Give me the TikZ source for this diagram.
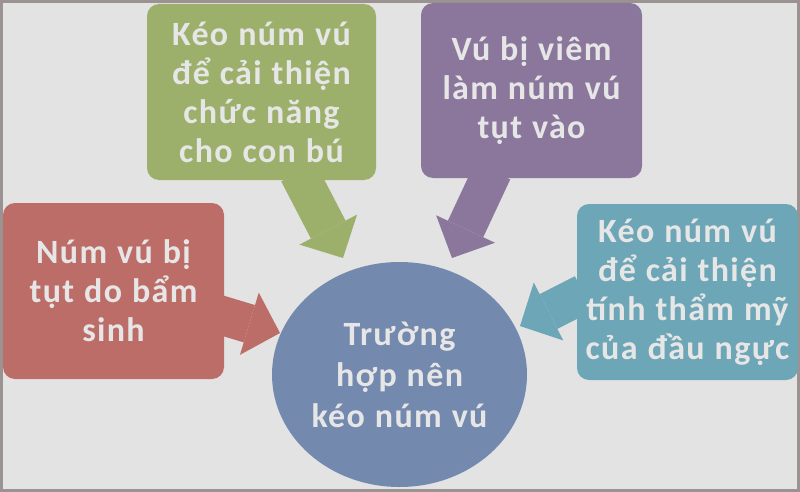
\documentclass[tikz,border=0pt]{standalone}
\usepackage{fontspec}
\setmainfont{Carlito}
\newfontfamily\boxfont[LetterSpace=4,WordSpace=1.1]{Carlito}
\usetikzlibrary{arrows.meta,shapes.geometric}
\definecolor{frameCol}{HTML}{9B9391}
\definecolor{bgCol}{HTML}{E3E3E3}
\definecolor{redCol}{HTML}{BD6D68}
\definecolor{greenCol}{HTML}{9CB06B}
\definecolor{purpleCol}{HTML}{8C779C}
\definecolor{tealCol}{HTML}{6DA6B6}
\definecolor{blueCol}{HTML}{7489AE}
\definecolor{textCol}{HTML}{E6E6E6}
\newcommand*{\boxW}{221}
\newcommand*{\boxH}{176}

\begin{document}
\begin{tikzpicture}[x=1pt,y=-1pt,
	box/.style={rectangle,rounded corners=12pt,minimum width=\boxW pt,minimum height=\boxH pt,inner sep=0pt,text=textCol,align=center,font=\boxfont\fontsize{34}{39}\selectfont\bfseries},
	blockarrow/.style={line width=39pt,-{Triangle[length=32pt,width=65pt,line width=0pt]}}]
	\fill[frameCol] (0,0) rectangle (800,492);
	\fill[bgCol] (3,3) rectangle (797,489);
	
	% ends of the arrows
	\coordinate (gs) at (298.5,172.4);
	\coordinate (gt) at (343,258);
	\coordinate (ps) at (492.6,171.1);
	\coordinate (pt) at (452,258);
	\coordinate (rs) at (215.5,313.5);
	\coordinate (rt) at (280,333);
	\coordinate (ts) at (583.7,293.6);
	\coordinate (tt) at (520,326);
	
	\draw[blockarrow,greenCol] (gs)--(gt);
	\draw[blockarrow,purpleCol] (ps)--(pt);
	\draw[blockarrow,redCol] (rs)--(rt);
	\draw[blockarrow,tealCol] (ts)--(tt);
	
	\node[box,fill=redCol] (congenital) at (113.5,291) {Núm vú bị\\tụt do bẩm\\sinh};
	\node[box,fill=greenCol,minimum width=229pt] (feeding) at (261.5,92) {Kéo núm vú\\để cải thiện\\chức năng\\cho con bú};
	\node[box,fill=purpleCol,minimum height=175pt] (inflamed) at (531.5,90.5) {Vú bị viêm\\làm núm vú\\tụt vào};
	\node[box,fill=tealCol] (aesthetic) at (687.5,292) {Kéo núm vú\\để cải thiện\\tính thẩm mỹ\\của đầu ngực};
	
	\node[ellipse,fill=blueCol,minimum width=255pt,minimum height=225pt,inner sep=0pt,text=textCol,align=center,font=\boxfont\fontsize{34}{41}\selectfont\bfseries] (cases) at (399.5,374.5) {Trường\\hợp nên\\kéo núm vú};
\end{tikzpicture}
\end{document}
